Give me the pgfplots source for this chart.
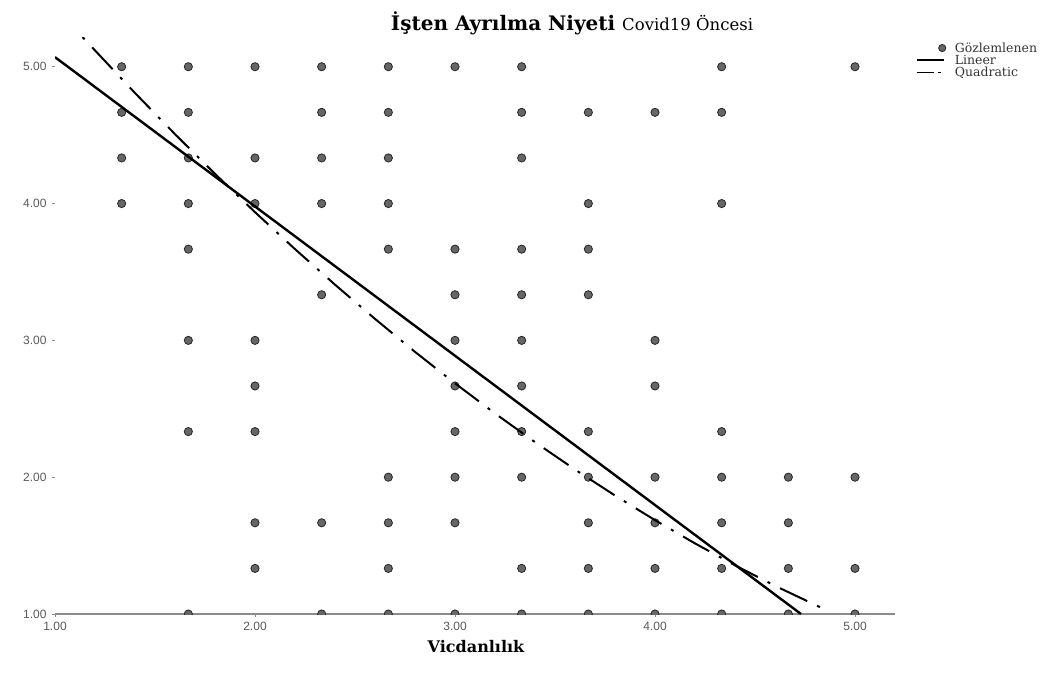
\documentclass[border=0pt]{standalone}
\usepackage{pgfplots}
\pgfplotsset{compat=1.18}
\usepackage{fontspec}
\setmainfont{Liberation Serif}
\newfontfamily\tickfont{Liberation Sans}
\newfontfamily\headfont{DejaVu Serif}

\begin{document}
\begin{tikzpicture}
\path[use as bounding box] (0,0) rectangle (1062pt,689pt);
\begin{axis}[
  at={(55pt,75pt)}, anchor=south west,
  scale only axis, width=840pt, height=576pt,
  xmin=1, xmax=5.2, ymin=1, ymax=5.21,
  axis lines=left,
  axis line style={-},
  x axis line style={draw=black!45, line width=1.3pt},
  y axis line style={draw=none},
  xtick={1,2,3,4,5}, ytick={1,2,3,4,5},
  tick style={draw=black!45, line width=0.6pt},
  major tick length=3pt, tick align=outside,
  /pgf/number format/.cd, fixed, fixed zerofill, precision=2, assume math mode=true,
  /pgfplots/.cd,
  tick label style={font=\tickfont\fontsize{12}{13}\selectfont, text=black!65},
  xticklabel style={yshift=-2pt},
  yticklabel style={xshift=-2pt},
  clip marker paths=true,
  legend style={at={(1.025,0.996)}, anchor=north west, draw=none, fill=none,
    inner sep=0pt, row sep=-2.6pt,
    font=\headfont\fontsize{12.5}{13}\selectfont, text=black!80,
    /tikz/every odd column/.append style={column sep=7pt}},
  legend cell align=left,
]
% observed responses (grid of 1/3 steps)
\addplot[only marks, mark=*, mark size=4.1pt,
  mark options={fill=black!60, draw=black!85, line width=0.8pt},
  legend image code/.code={\draw[mark size=3.6pt] plot coordinates {(25pt,0pt)};}] coordinates {
  (1.3333,5) (1.6667,5) (2,5) (2.3333,5) (2.6667,5) (3,5) (3.3333,5) (4.3333,5) (5,5)
  (1.3333,4.6667) (1.6667,4.6667) (2.3333,4.6667) (2.6667,4.6667) (3.3333,4.6667) (3.6667,4.6667) (4,4.6667) (4.3333,4.6667)
  (1.3333,4.3333) (1.6667,4.3333) (2,4.3333) (2.3333,4.3333) (2.6667,4.3333) (3.3333,4.3333)
  (1.3333,4) (1.6667,4) (2,4) (2.3333,4) (2.6667,4) (3.6667,4) (4.3333,4)
  (1.6667,3.6667) (2.6667,3.6667) (3,3.6667) (3.3333,3.6667) (3.6667,3.6667)
  (2.3333,3.3333) (3,3.3333) (3.3333,3.3333) (3.6667,3.3333)
  (1.6667,3) (2,3) (3,3) (3.3333,3) (4,3)
  (2,2.6667) (3,2.6667) (3.3333,2.6667) (4,2.6667)
  (1.6667,2.3333) (2,2.3333) (3,2.3333) (3.3333,2.3333) (3.6667,2.3333) (4.3333,2.3333)
  (2.6667,2) (3,2) (3.3333,2) (3.6667,2) (4,2) (4.3333,2) (4.6667,2) (5,2)
  (2,1.6667) (2.3333,1.6667) (2.6667,1.6667) (3,1.6667) (3.6667,1.6667) (4,1.6667) (4.3333,1.6667) (4.6667,1.6667)
  (2,1.3333) (2.6667,1.3333) (3.3333,1.3333) (3.6667,1.3333) (4,1.3333) (4.3333,1.3333) (4.6667,1.3333) (5,1.3333)
  (1.6667,1) (2.3333,1) (2.6667,1) (3,1) (3.3333,1) (3.6667,1) (4,1) (4.3333,1) (4.6667,1) (5,1)
};
\addlegendentry{Gözlemlenen}
% linear fit
\addplot[black, line width=2.4pt,
  legend image code/.code={\draw[line width=2pt] (0pt,0pt) -- (27pt,0pt);}]
  coordinates {(1,5.07) (4.73,1.0)};
\addlegendentry{Lineer}
% quadratic fit
\addplot[black, line width=2pt, dash pattern=on 30pt off 11pt on 3pt off 11pt,
  legend image code/.code={\draw[line width=1.8pt, dash pattern=on 17pt off 4pt on 2.5pt off 4pt] (0pt,0pt) -- (27pt,0pt);}]
  coordinates {
  (1.0,5.438) (1.15,5.197) (1.4,4.808) (1.6,4.507) (1.8,4.217) (2.0,3.937)
  (2.2,3.667) (2.4,3.407) (2.6,3.157) (2.8,2.916) (3.0,2.686) (3.2,2.466)
  (3.4,2.256) (3.6,2.056) (3.8,1.866) (4.0,1.686) (4.2,1.516) (4.4,1.356)
  (4.6,1.206) (4.825,1.050)
};
\addlegendentry{Quadratic}
\end{axis}
\node[anchor=base] at (572pt,658pt) {\headfont\bfseries\fontsize{20}{22}\selectfont İşten Ayrılma Niyeti \mdseries\fontsize{16.5}{18}\selectfont Covid19 Öncesi};
\node[anchor=base] at (476pt,37pt) {\headfont\bfseries\fontsize{16}{18}\selectfont Vicdanlılık};
\end{tikzpicture}
\end{document}
